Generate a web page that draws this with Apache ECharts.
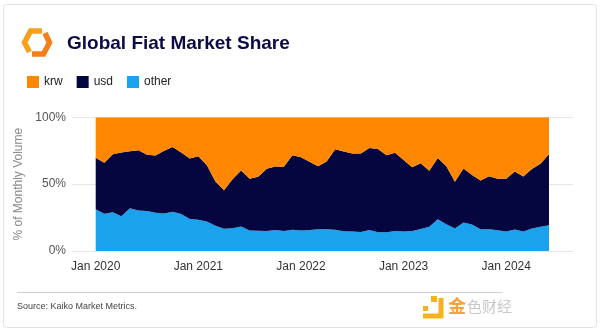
<!DOCTYPE html>
<html>
<head>
<meta charset="utf-8">
<script src="https://cdn.jsdelivr.net/npm/echarts@6/dist/echarts.min.js"></script>
<style>
html,body{margin:0;padding:0;background:#fff;}
#c{width:600px;height:332px;}
</style>
</head>
<body>
<div id="c"></div>
<script>
var months = ['Jan 2020','Feb 2020','Mar 2020','Apr 2020','May 2020','Jun 2020','Jul 2020','Aug 2020','Sep 2020','Oct 2020','Nov 2020','Dec 2020',
'Jan 2021','Feb 2021','Mar 2021','Apr 2021','May 2021','Jun 2021','Jul 2021','Aug 2021','Sep 2021','Oct 2021','Nov 2021','Dec 2021',
'Jan 2022','Feb 2022','Mar 2022','Apr 2022','May 2022','Jun 2022','Jul 2022','Aug 2022','Sep 2022','Oct 2022','Nov 2022','Dec 2022',
'Jan 2023','Feb 2023','Mar 2023','Apr 2023','May 2023','Jun 2023','Jul 2023','Aug 2023','Sep 2023','Oct 2023','Nov 2023','Dec 2023',
'Jan 2024','Feb 2024','Mar 2024','Apr 2024','May 2024','Jun 2024'];

var other = [31.2,27.9,29.0,26.0,31.9,30.3,30.0,28.7,28.0,29.3,27.7,24.0,
23.3,22.0,18.8,16.6,17.0,18.3,15.3,15.2,15.0,15.8,15.0,15.9,
15.3,15.8,16.2,16.3,15.9,14.8,14.6,14.3,15.8,14.0,14.0,15.0,
14.5,15.0,16.4,18.1,23.8,20.0,16.9,21.3,19.9,16.2,16.2,15.6,
14.5,16.1,14.5,16.9,18.1,19.3];

var usd = [38.5,38.1,43.3,47.7,42.8,45.1,41.9,42.8,47.0,48.4,45.9,45.2,
47.5,42.1,33.2,28.9,36.6,41.9,38.8,40.3,46.5,47.4,48.0,55.8,
54.9,51.0,47.2,50.6,60.2,59.7,58.3,58.7,61.2,62.3,57.7,58.4,
53.5,47.6,49.2,42.0,45.7,43.4,34.9,40.4,36.9,36.6,39.7,38.4,
39.5,43.4,41.3,44.5,47.1,53.1];

var krw = [30.3,34.0,27.7,26.3,25.3,24.6,28.1,28.5,25.0,22.3,26.4,30.8,
29.2,35.9,48.0,54.5,46.4,39.8,45.9,44.5,38.5,36.8,37.0,28.3,
29.8,33.2,36.6,33.1,23.9,25.5,27.1,27.0,23.0,23.7,28.3,26.6,
32.0,37.4,34.4,39.9,30.5,36.6,48.2,38.3,43.2,47.2,44.1,46.0,
46.0,40.5,44.2,38.6,34.8,27.6];

var C_KRW = '#FF8700', C_USD = '#05053F', C_OTHER = '#1AA3EC';
var FONT = 'Liberation Sans, Arial, sans-serif';

var chart = echarts.init(document.getElementById('c'), null, {renderer:'canvas'});
chart.setOption({
  animation:false,
  backgroundColor:'#fff',
  textStyle:{fontFamily:FONT},
  grid:[
    {left:72, right:27, top:117.3, bottom:81, containLabel:false},
    {left:95.7, right:51, top:117.3, bottom:81, containLabel:false}
  ],
  legend:{
    left:22, top:71, itemWidth:12, itemHeight:12, itemGap:14, icon:'rect',
    data:['krw','usd','other'],
    textStyle:{fontSize:12, color:'#222', fontFamily:FONT},
    selectedMode:false
  },
  xAxis:[
    {type:'value', gridIndex:0, min:0, max:1, show:false},
    {type:'category', gridIndex:1, data:months, boundaryGap:false,
      axisLine:{show:false}, axisTick:{show:false}, splitLine:{show:false},
      axisLabel:{color:'#333', fontSize:12, margin:10, fontFamily:FONT,
        interval:function(idx){ return idx % 12 === 0; }}}
  ],
  yAxis:[
    {type:'value', gridIndex:0, min:0, max:100, interval:50,
      name:'% of Monthly Volume', nameLocation:'middle', nameGap:44, nameRotate:90,
      nameTextStyle:{color:'#888', fontSize:12, fontFamily:FONT},
      axisLine:{show:false}, axisTick:{show:false},
      axisLabel:{formatter:'{value}%', color:'#555', fontSize:12, margin:6, fontFamily:FONT},
      splitLine:{lineStyle:{color:'#e6e6e6', width:1}}},
    {type:'value', gridIndex:1, min:0, max:100, show:false, splitLine:{show:false}}
  ],
  series:[
    {name:'other', type:'line', xAxisIndex:1, yAxisIndex:1, stack:'s', data:other, symbol:'none',
      lineStyle:{width:0}, areaStyle:{color:C_OTHER, opacity:1}, itemStyle:{color:C_OTHER}},
    {name:'usd', type:'line', xAxisIndex:1, yAxisIndex:1, stack:'s', data:usd, symbol:'none',
      lineStyle:{width:0}, areaStyle:{color:C_USD, opacity:1}, itemStyle:{color:C_USD}},
    {name:'krw', type:'line', xAxisIndex:1, yAxisIndex:1, stack:'s', data:krw, symbol:'none',
      lineStyle:{width:0}, areaStyle:{color:C_KRW, opacity:1}, itemStyle:{color:C_KRW}}
  ],
  graphic:[
    {type:'rect', shape:{x:3.5, y:4.5, width:593, height:323, r:3}, style:{fill:'none', stroke:'#e2e2e2', lineWidth:1}, z:-10},
    {type:'polyline', shape:{points:[[42,31],[30.5,31],[24.5,42.5],[29.5,52]]}, style:{stroke:'#F7A01E', fill:'none', lineWidth:5.5, lineJoin:'miter'}},
    {type:'polyline', shape:{points:[[45,33],[49.5,42.5],[43.5,54],[32,54]]}, style:{stroke:'#F57F1A', fill:'none', lineWidth:5.5, lineJoin:'miter'}},
    {type:'text', left:67, top:34, style:{text:'Global Fiat Market Share', fill:'#0B0B45', font:'bold 19px '+FONT}},
    {type:'line', shape:{x1:17, y1:292.5, x2:502, y2:292.5}, style:{stroke:'#d0d0d0', lineWidth:1}},
    {type:'text', left:17, top:302, style:{text:'Source: Kaiko Market Metrics.', fill:'#444', font:'9px '+FONT}},
    {type:'rect', shape:{x:431, y:296, width:6, height:6}, style:{fill:'#F5B21E'}},
    {type:'polyline', shape:{points:[[441,298],[441,316],[423,316]]}, style:{stroke:'#F5B21E', fill:'none', lineWidth:5}},
    {type:'rect', shape:{x:423, y:306, width:5, height:5}, style:{fill:'#F5B21E'}},
    {type:'text', left:448, top:297, style:{text:'金', fill:'#F2A33A', font:'bold 18px "Noto Sans CJK SC"'}},
    {type:'text', left:467, top:299, style:{text:'色财经', fill:'#c8c8c8', font:'15px "Noto Sans CJK SC"'}}
  ]
});
</script>
</body>
</html>
